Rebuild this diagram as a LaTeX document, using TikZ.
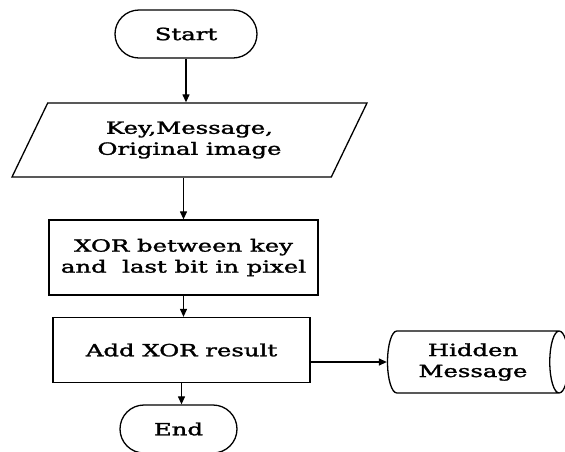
\documentclass[tikz,border=0pt]{standalone}
\usepackage{fontspec}
\setmainfont[FakeBold=1.5]{DejaVu Serif}
\usepackage{graphicx}
\usetikzlibrary{shapes.geometric,arrows.meta}
% widened lettering used in every label
\newcommand{\wide}[1]{\scalebox{1.45}[1]{#1}}

\begin{document}
\begin{tikzpicture}[x=1pt,y=1pt,
  every node/.style={font=\fontsize{16.8}{21}\selectfont, inner sep=0pt, align=center},
  flow/.style={line width=1.2pt, -{Triangle[length=8pt,width=7pt]}},
  terminal/.style={draw, line width=1.3pt, rounded corners=24pt, minimum height=48pt},
  process/.style={draw, line width=1.3pt, rectangle},
  io/.style={draw, line width=1.3pt, trapezium, trapezium left angle=46,
    trapezium right angle=134, trapezium stretches body},
  store/.style={draw, line width=1.3pt, cylinder, aspect=0.5}]
\useasboundingbox (0,-451) rectangle (565,0);

% flowchart blocks
\node[terminal, minimum width=142pt] (start) at (186,-34) {\wide{Start}};
\node[io, minimum width=355pt, minimum height=74pt] (inp) at (189.5,-140)
  {\wide{Key,Message,}\\\wide{Original image}};
\node[process, minimum width=269pt, minimum height=75pt] (xor) at (183.5,-257.5)
  {\wide{XOR between key}\\\wide{and~~last bit in pixel}};
\node[process, minimum width=257pt, minimum height=65pt] (add) at (181.5,-350)
  {\wide{Add XOR result}};
\node[store, minimum height=181pt, minimum width=62pt] (hidden) at (473,-362)
  {\wide{Hidden}\\\wide{Message}};
\node[terminal, minimum width=117pt] (end) at (178.5,-429) {\wide{End}};

% connectors
\draw[flow] (start) -- (start |- inp.north);
\draw[flow] (xor.north |- inp.south) -- (xor);
\draw[flow] (xor) -- (xor |- add.north);
\draw[flow] (add) -- (add |- end.north);
\draw[flow] (add.east |- hidden.west) -- (hidden.west);
\end{tikzpicture}
\end{document}
